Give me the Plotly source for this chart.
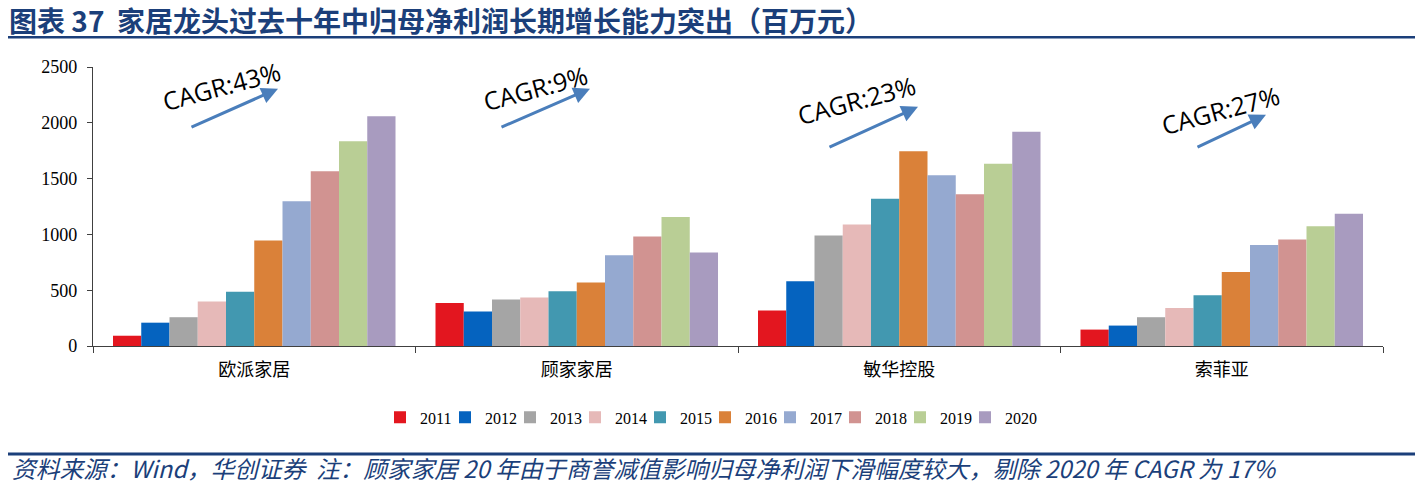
import plotly.graph_objects as go

companies = ["欧派家居", "顾家家居", "敏华控股", "索菲亚"]
years = ["2011", "2012", "2013", "2014", "2015", "2016", "2017", "2018", "2019", "2020"]

# net profit (million yuan), rows = year, cols = company
v2011 = [92, 386, 318, 147]
v2012 = [209, 309, 581, 183]
v2013 = [258, 417, 991, 258]
v2014 = [398, 435, 1088, 341]
v2015 = [485, 491, 1320, 455]
v2016 = [946, 569, 1745, 662]
v2017 = [1296, 814, 1530, 904]
v2018 = [1565, 982, 1359, 955]
v2019 = [1835, 1156, 1632, 1072]
v2020 = [2059, 838, 1919, 1185]
values = [v2011, v2012, v2013, v2014, v2015, v2016, v2017, v2018, v2019, v2020]

cagr_labels = ["CAGR:43%", "CAGR:9%", "CAGR:23%", "CAGR:27%"]

title_text = "图表 37  家居龙头过去十年中归母净利润长期增长能力突出（百万元）"
source_text = "资料来源：Wind，华创证券  注：顾家家居 20 年由于商誉减值影响归母净利润下滑幅度较大，剔除 2020 年 CAGR 为 17%"

colors = ["#E3161F", "#0563BF", "#A5A5A5", "#E6B9B8", "#4298B0",
          "#DA8139", "#95A9D0", "#D19391", "#B9CE95", "#A89BBF"]

W, H = 1415, 485
L, R, T, B = 93, 1383, 67.3, 345.7
NAVY = "#1B3F7A"


def px_x(x):
    return (x - L) / (R - L)


def px_y(y):
    return (B - y) / (B - T)


fig = go.Figure()
for yr, vals, c in zip(years, values, colors):
    fig.add_trace(go.Bar(name=yr, x=companies, y=vals, marker=dict(color=c, line=dict(width=0))))
# invisible spacer entry so the last legend label is not clipped
fig.add_trace(go.Scatter(name=" ", x=[None], y=[None], mode="markers",
                         marker=dict(color="rgba(0,0,0,0)"), hoverinfo="skip"))

anns = []
# title
anns.append(dict(text="<b>" + title_text + "</b>", xref="paper", yref="paper",
                 x=px_x(7), y=px_y(20), xanchor="left", yanchor="middle", showarrow=False,
                 font=dict(family="Noto Sans CJK SC", size=28, color=NAVY)))
# source
anns.append(dict(text="<i>" + source_text + "</i>", xref="paper", yref="paper",
                 x=px_x(10), y=px_y(467.5), xanchor="left", yanchor="middle", showarrow=False,
                 font=dict(family="Noto Sans CJK SC", size=23.7, color=NAVY)))

text_pos = [(221, 86), (535, 88), (856, 100), (1220, 110)]
arrow_pos = [((190, 128), (278, 89)), ((500, 128), (590, 89)),
             ((828, 148), (918, 107)), ((1196, 148), (1266, 115))]
for lab, (tx, ty), ((ax0, ay0), (hx, hy)) in zip(cagr_labels, text_pos, arrow_pos):
    anns.append(dict(text=lab, xref="paper", yref="paper", x=px_x(tx), y=px_y(ty),
                     xanchor="center", yanchor="middle", showarrow=False, textangle=-15,
                     font=dict(family="Open Sans", size=25, color="#000000")))
    anns.append(dict(text="", xref="paper", yref="paper", x=px_x(hx), y=px_y(hy),
                     ax=ax0 - hx, ay=ay0 - hy, axref="pixel", ayref="pixel",
                     showarrow=True, arrowhead=2, arrowsize=1.1, arrowwidth=3,
                     arrowcolor="#4A7EBB"))

shapes = [
    dict(type="line", xref="paper", yref="paper", x0=px_x(8), x1=px_x(1415),
         y0=px_y(37.5), y1=px_y(37.5), line=dict(color=NAVY, width=2.5)),
    dict(type="line", xref="paper", yref="paper", x0=px_x(8), x1=px_x(1415),
         y0=px_y(453.5), y1=px_y(453.5), line=dict(color=NAVY, width=3)),
]

fig.update_layout(
    width=W, height=H,
    margin=dict(l=L, r=W - R, t=T, b=H - B, pad=0),
    paper_bgcolor="white", plot_bgcolor="white",
    barmode="group", bargap=0.124, bargroupgap=0,
    annotations=anns, shapes=shapes,
    legend=dict(orientation="h", x=px_x(380), xanchor="left", y=px_y(417), yanchor="middle",
                font=dict(family="Liberation Serif", size=16, color="#000000"),
                itemwidth=30, tracegroupgap=0, traceorder="normal",
                entrywidth=20, entrywidthmode="pixels"),
    showlegend=True,
)
fig.update_xaxes(type="category", showline=True, linecolor="#404040", linewidth=1.3,
                 ticks="outside", tickson="boundaries", ticklen=6, tickcolor="#404040",
                 tickfont=dict(family="Noto Sans CJK SC", size=18, color="#000000"),
                 ticklabelstandoff=7, showgrid=False)
fig.update_yaxes(range=[0, 2500], dtick=500, showline=True, linecolor="#404040", linewidth=1.3,
                 ticks="outside", ticklen=5, tickcolor="#404040",
                 tickfont=dict(family="Liberation Serif", size=18, color="#000000"),
                 ticklabelstandoff=6, showgrid=False, zeroline=False)

fig.write_html("out.html")
